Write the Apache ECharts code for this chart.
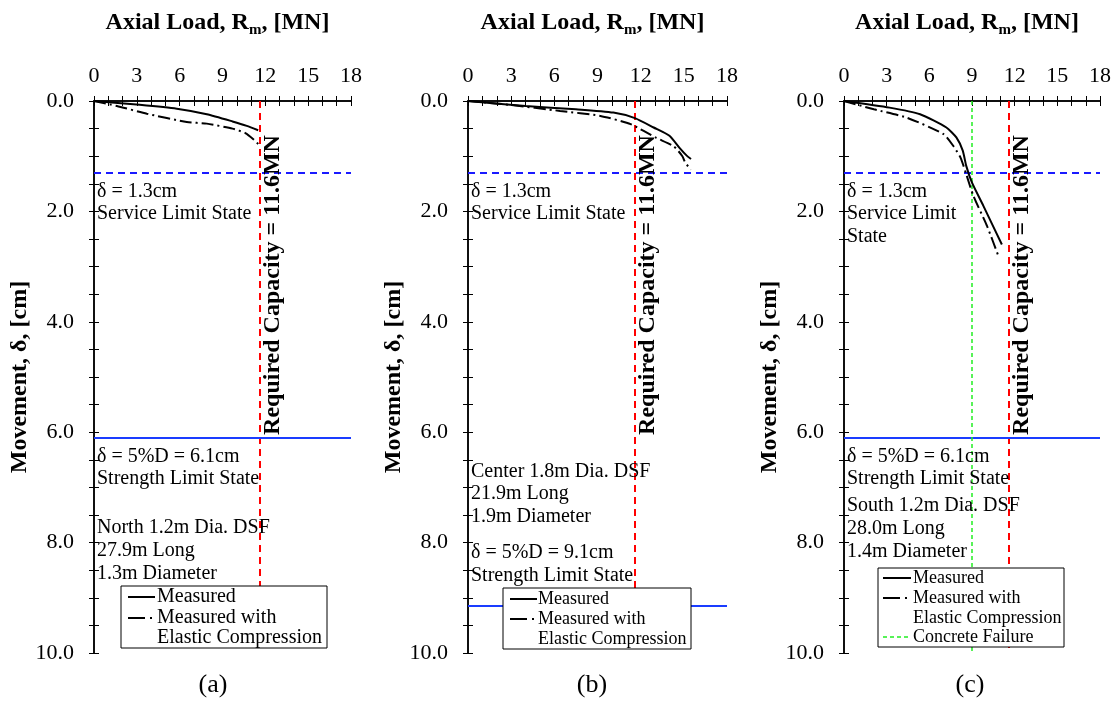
<!DOCTYPE html>
<html><head><meta charset="utf-8">
<script src="https://cdn.jsdelivr.net/npm/echarts@6/dist/echarts.min.js"></script>
<style>html,body{margin:0;padding:0;background:#fff}#c{width:1117px;height:702px}</style>
</head><body><div id="c"></div>
<script>
// ---------- data ----------
const xTickValues = [0, 3, 6, 9, 12, 15, 18];
const yTickLabels = ['0.0', '2.0', '4.0', '6.0', '8.0', '10.0'];
const requiredCapacity = 11.6;
const concreteFailure = 9.0;
const serviceLimit = 1.3;
const strengthLimitA = 6.1;
const strengthLimitB = 9.15;
const strengthLimitC = 6.1;

const loadAMeasured = [0, 3.2, 5.8, 7.9, 9.7, 10.7, 11.5];
const moveAMeasured = [0, 0.07, 0.14, 0.24, 0.37, 0.45, 0.53];
const loadAElastic = [0, 1.6, 3.7, 6.5, 7.9, 9.7, 10.6, 11.2, 11.5];
const moveAElastic = [0, 0.09, 0.23, 0.38, 0.41, 0.5, 0.58, 0.7, 0.78];

const loadBMeasured = [0, 4.0, 7.5, 10.1, 11.6, 12.9, 14.0, 14.7, 15.2, 15.5];
const moveBMeasured = [0, 0.09, 0.15, 0.21, 0.31, 0.48, 0.63, 0.85, 0.99, 1.05];
const loadBElastic = [0, 2.9, 6.4, 9.2, 11.3, 13.1, 14.3, 14.9, 15.1, 15.5];
const moveBElastic = [0, 0.07, 0.18, 0.27, 0.42, 0.67, 0.82, 1.0, 1.12, 1.24];

const loadCMeasured = [0, 3.2, 5.35, 7.2, 7.9, 8.35, 8.6, 9.0, 9.8, 11.1];
const moveCMeasured = [0, 0.12, 0.24, 0.48, 0.66, 0.9, 1.18, 1.48, 1.9, 2.6];
const loadCElastic = [0, 2.1, 4.4, 7.0, 7.7, 8.2, 8.6, 9.1, 10.05, 10.9];
const moveCElastic = [0, 0.15, 0.3, 0.6, 0.82, 1.03, 1.33, 1.72, 2.26, 2.84];

// ---------- chart ----------
const FONT = '"Liberation Serif","Times New Roman",serif';
const zip = (a, b) => a.map((v, i) => [v, b[i]]);
const grids = [
  {left: 94, top: 101, width: 257, height: 552},
  {left: 468, top: 101, width: 259, height: 552},
  {left: 844, top: 101, width: 256, height: 552}
];
const axisLineStyle = {color: '#000', width: 1.5};
const tickStyle = {color: '#000', width: 1};
let xAxes = [], yAxes = [];
grids.forEach((g, i) => {
  xAxes.push({
    gridIndex: i, type: 'value', position: 'top', min: 0, max: 18, interval: 3,
    axisLine: {show: true, lineStyle: axisLineStyle},
    axisTick: {show: true, inside: true, length: 5, lineStyle: tickStyle},
    minorTick: {show: true, splitNumber: 3, length: 5, lineStyle: tickStyle},
    splitLine: {show: false},
    axisLabel: {show: true, margin: 14, fontFamily: FONT, fontSize: 22, color: '#000',
      formatter: v => xTickValues.includes(v) ? String(v) : ''},
    name: '{b|Axial Load, R}{s|m}{b|, [MN]}', nameLocation: 'middle', nameGap: 64,
    nameTextStyle: {padding: [0, 10, 0, 0], rich: {
      b: {fontFamily: FONT, fontSize: 24, fontWeight: 'bold', color: '#000', lineHeight: 26, verticalAlign: 'top'},
      s: {fontFamily: FONT, fontSize: 15, fontWeight: 'bold', color: '#000', lineHeight: 12, padding: [12, 0, 0, 0], verticalAlign: 'top'}
    }}
  });
  xAxes.push({
    gridIndex: i, type: 'value', position: 'bottom', min: 0, max: 18, interval: 3,
    axisLine: {show: true, lineStyle: axisLineStyle},
    axisTick: {show: true, inside: true, length: 5, lineStyle: tickStyle},
    minorTick: {show: true, splitNumber: 3, length: 5, lineStyle: tickStyle},
    splitLine: {show: false}, axisLabel: {show: false}
  });
  yAxes.push({
    gridIndex: i, type: 'value', position: 'left', inverse: true, min: 0, max: 10, interval: 2,
    axisLine: {show: true, lineStyle: axisLineStyle},
    axisTick: {show: true, inside: true, length: 5, lineStyle: tickStyle},
    minorTick: {show: true, splitNumber: 4, length: 5, lineStyle: tickStyle},
    splitLine: {show: false},
    axisLabel: {show: true, margin: 20, fontFamily: FONT, fontSize: 22, color: '#000',
      formatter: v => yTickLabels[Math.round(v / 2)]},
    name: 'Movement, δ, [cm]', nameLocation: 'middle', nameGap: 58,
    nameTextStyle: {fontFamily: FONT, fontSize: 24, fontWeight: 'bold', color: '#000'}
  });
  yAxes.push({
    gridIndex: i, type: 'value', position: 'right', inverse: true, min: 0, max: 10, interval: 2,
    axisLine: {show: true, lineStyle: axisLineStyle},
    axisTick: {show: true, inside: true, length: 5, lineStyle: tickStyle},
    minorTick: {show: true, splitNumber: 4, length: 5, lineStyle: tickStyle},
    splitLine: {show: false}, axisLabel: {show: false}
  });
});

const dashDot = [12, 4, 2, 4];
function curve(i, data, dashed) {
  return {
    type: 'line', xAxisIndex: i * 2, yAxisIndex: i * 2, data: data, showSymbol: false, symbol: 'none',
    smooth: 0.2, silent: true, z: 5,
    lineStyle: {color: '#000', width: 2, type: dashed ? dashDot : 'solid'}
  };
}
function refLines(i, strength, extra) {
  const d = [
    {xAxis: requiredCapacity, lineStyle: {color: '#ff0000', width: 2, type: [7, 5]}},
    {yAxis: serviceLimit, lineStyle: {color: '#1a1aff', width: 1.8, type: [7, 5]}},
    {yAxis: strength, lineStyle: {color: '#1a3cff', width: 2, type: 'solid'}}
  ];
  if (extra) d.push(extra);
  return {
    type: 'line', xAxisIndex: i * 2, yAxisIndex: i * 2, data: [], silent: true, z: 3,
    markLine: {symbol: 'none', silent: true, label: {show: false}, animation: false, data: d}
  };
}
const series = [
  refLines(0, strengthLimitA),
  curve(0, zip(loadAMeasured, moveAMeasured), false),
  curve(0, zip(loadAElastic, moveAElastic), true),
  refLines(1, strengthLimitB),
  curve(1, zip(loadBMeasured, moveBMeasured), false),
  curve(1, zip(loadBElastic, moveBElastic), true),
  refLines(2, strengthLimitC, {xAxis: concreteFailure, lineStyle: {color: '#22ee22', width: 1.5, type: [4, 3]}}),
  curve(2, zip(loadCMeasured, moveCMeasured), false),
  curve(2, zip(loadCElastic, moveCElastic), true)
];

// ---------- annotations ----------
const tStyle = (x, y, text, size) => ({type: 'text', x: x, y: y, z: 10, silent: true,
  style: {text: text, fontFamily: FONT, fontSize: size || 20, fill: '#000', verticalAlign: 'middle', align: 'left'}});
const graphics = [];
function texts(x, lines) { lines.forEach(l => graphics.push(tStyle(x, l[0], l[1]))); }
texts(97, [[192, 'δ = 1.3cm'], [214, 'Service Limit State'], [457, 'δ = 5%D = 6.1cm'], [479, 'Strength Limit State'],
  [528, 'North 1.2m Dia. DSF'], [551, '27.9m Long'], [574, '1.3m Diameter']]);
texts(471, [[192, 'δ = 1.3cm'], [214, 'Service Limit State'], [472, 'Center 1.8m Dia. DSF'], [494, '21.9m Long'],
  [517, '1.9m Diameter'], [553, 'δ = 5%D = 9.1cm'], [576, 'Strength Limit State']]);
texts(847, [[192, 'δ = 1.3cm'], [214, 'Service Limit'], [237, 'State'], [457, 'δ = 5%D = 6.1cm'], [479, 'Strength Limit State'],
  [506, 'South 1.2m Dia. DSF'], [529, '28.0m Long'], [552, '1.4m Diameter']]);

[273, 648, 1022].forEach(x => graphics.push({type: 'text', x: x, y: 285, rotation: Math.PI / 2, z: 10, silent: true,
  style: {text: 'Required Capacity = 11.6MN', fontFamily: FONT, fontSize: 24, fontWeight: 'bold', fill: '#000', align: 'center', verticalAlign: 'middle'}}));

[[213, '(a)'], [592, '(b)'], [970, '(c)']].forEach(p => graphics.push({type: 'text', x: p[0], y: 685, z: 10, silent: true,
  style: {text: p[1], fontFamily: FONT, fontSize: 26, fill: '#000', align: 'center', verticalAlign: 'middle'}}));

function legendBox(x0, y0, w, h, lx0, lx1, tx, size, rows) {
  graphics.push({type: 'rect', z: 20, silent: true, shape: {x: x0, y: y0, width: w, height: h},
    style: {fill: '#fff', stroke: '#000', lineWidth: 1}});
  rows.forEach(r => {
    if (r[2]) graphics.push({type: 'line', z: 21, silent: true, shape: {x1: lx0, y1: r[0], x2: lx1, y2: r[0]},
      style: {stroke: r[3] || '#000', lineWidth: r[4] || 2, lineDash: r[2] === 'solid' ? null : r[2]}});
    graphics.push(Object.assign(tStyle(tx, r[0], r[1], size), {z: 21}));
  });
}
legendBox(121, 586, 206, 62, 128, 155, 157, 20, [[597, 'Measured', 'solid'], [618, 'Measured with', [17, 5, 2, 20]], [638, 'Elastic Compression']]);
legendBox(503, 588, 188, 61, 510, 537, 538, 18, [[599, 'Measured', 'solid'], [619, 'Measured with', [17, 5, 2, 20]], [639, 'Elastic Compression']]);
legendBox(878, 568, 186, 79, 883, 911, 913, 18, [[578, 'Measured', 'solid'], [598, 'Measured with', [17, 5, 2, 20]], [618, 'Elastic Compression'],
  [637, 'Concrete Failure', [4, 3], '#22ee22', 1.5]]);

const chart = echarts.init(document.getElementById('c'), null, {renderer: 'canvas'});
chart.setOption({
  animation: false, backgroundColor: '#fff',
  grid: grids, xAxis: xAxes, yAxis: yAxes, series: series, graphic: graphics
});
</script></body></html>
